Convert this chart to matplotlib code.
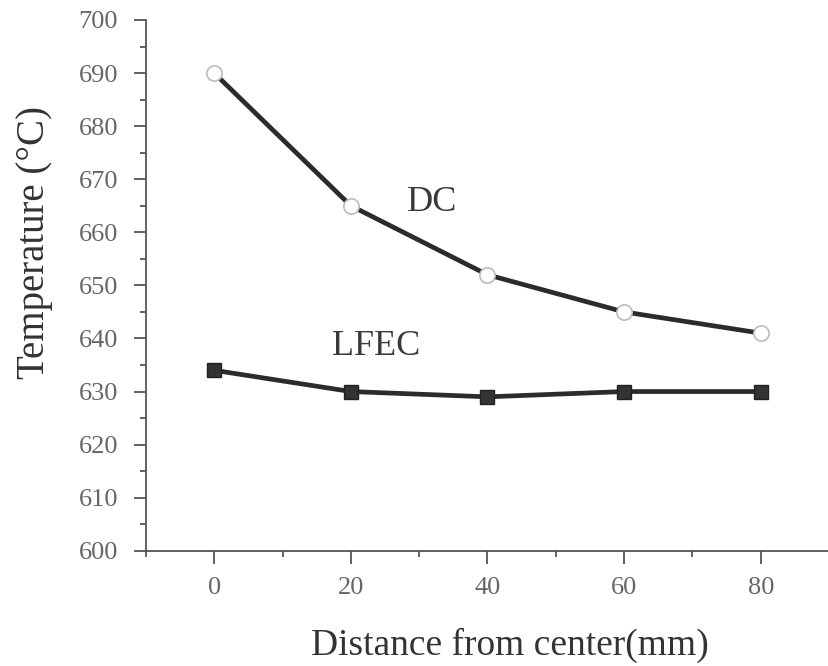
import matplotlib
matplotlib.use("Agg")
import matplotlib.pyplot as plt
from matplotlib.ticker import MultipleLocator

# data
distance = [0, 20, 40, 60, 80]
temp_dc = [690, 665, 652, 645, 641]
temp_lfec = [634, 630, 629, 630, 630]

plt.rcParams['font.family'] = ['Liberation Serif', 'DejaVu Serif']

fig = plt.figure(figsize=(8.29, 6.66), dpi=100)
ax = fig.add_axes([0.176, 0.173, 0.824, 0.797])

line_col = '#2b2b2b'
ax.plot(distance, temp_dc, color=line_col, lw=3.4, marker='o', ms=11,
        mfc='white', mec='#bbbbbb', mew=1.2, zorder=3)
ax.plot(distance, temp_lfec, color=line_col, lw=3.4, marker='s', ms=10,
        mfc='#333333', mec='#222222', zorder=3)

ax.text(31.9, 665.7, 'DC', fontsize=26, color='#3a3a3a', ha='center', va='center')
ax.text(23.7, 638.4, 'LFEC', fontsize=26, color='#3a3a3a', ha='center', va='center')

ax.set_xlim(-10, 90)
ax.set_ylim(600, 700)
ax.xaxis.set_major_locator(MultipleLocator(20))
ax.xaxis.set_minor_locator(MultipleLocator(10))
ax.yaxis.set_major_locator(MultipleLocator(10))
ax.yaxis.set_minor_locator(MultipleLocator(5))

for s in ['top', 'right']:
    ax.spines[s].set_visible(False)
for s in ['left', 'bottom']:
    ax.spines[s].set_color('#555555')
    ax.spines[s].set_linewidth(1.3)

ax.tick_params(which='major', direction='out', length=9, width=1.3,
               color='#555555', labelsize=19, labelcolor='#666666')
ax.tick_params(axis='y', which='major', pad=11)
ax.tick_params(axis='x', which='major', pad=10)
ax.tick_params(which='minor', direction='out', length=4, width=1.3,
               color='#555555')

ax.set_xlabel('Distance from center(mm)', fontsize=27, color='#333333')
ax.set_ylabel('Temperature (°C)', fontsize=28, color='#333333')
ax.xaxis.set_label_coords(0.533, -0.145)
ax.yaxis.set_label_coords(-0.136, 0.58)

fig.savefig('out.png', dpi=100)
